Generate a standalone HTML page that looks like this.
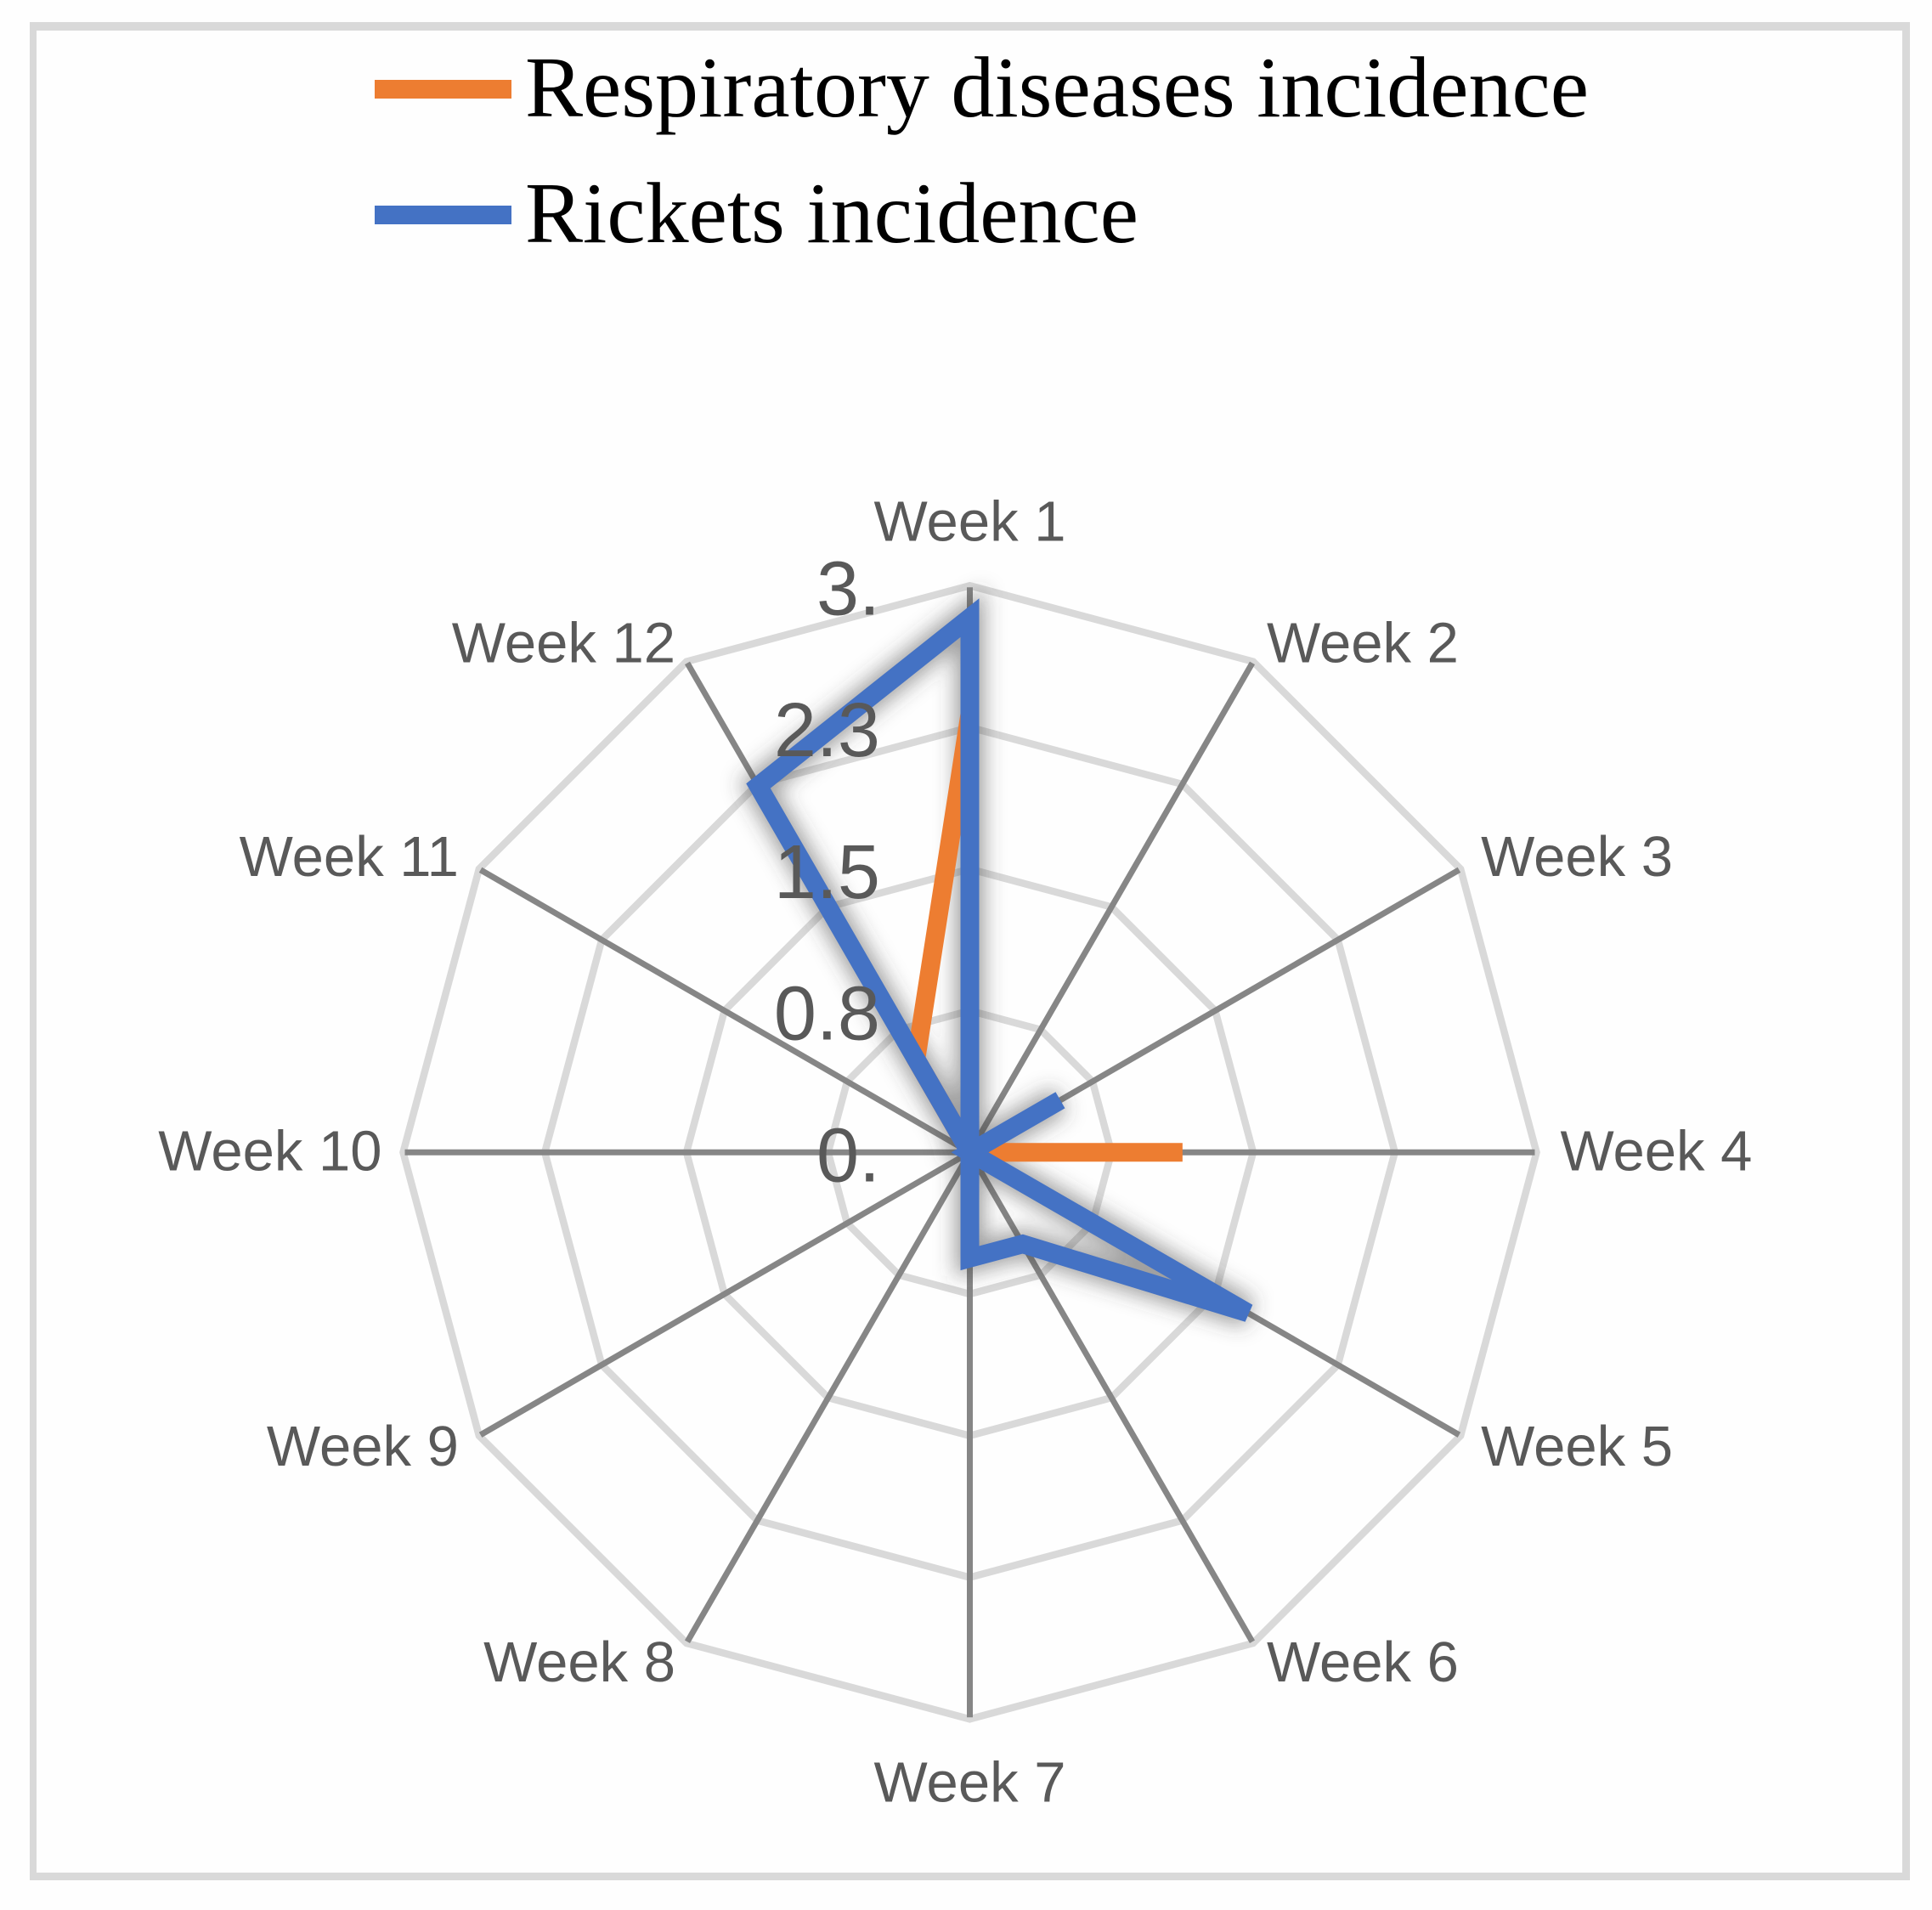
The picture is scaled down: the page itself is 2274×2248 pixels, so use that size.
<!DOCTYPE html>
<html lang="en">
<head>
<meta charset="utf-8">
<title>Respiratory diseases and rickets incidence radar chart</title>
<style>
html,body{margin:0;padding:0;background:#fefefe;}
svg{display:block;}
text{white-space:pre;}
.legend-text{font-family:"Liberation Serif",serif;font-size:102px;fill:#000;}
.cat{font-family:"Liberation Sans",sans-serif;font-size:67px;fill:#595959;}
.tick{font-family:"Liberation Sans",sans-serif;font-size:90px;fill:#595959;text-anchor:end;}
</style>
</head>
<body>
<svg id="chart" xmlns="http://www.w3.org/2000/svg" width="2274" height="2248" viewBox="0 0 2274 2248">
  <defs>
    <filter id="halo" filterUnits="userSpaceOnUse" x="700" y="550" width="1000" height="1200">
      <feGaussianBlur stdDeviation="12"/>
    </filter>
  </defs>
  <rect x="0" y="0" width="2274" height="2248" fill="#fefefe"/>
  <g fill="#d9d9d9">
    <rect x="35" y="26" width="2213" height="10"/>
    <rect x="35" y="2204" width="2213" height="9"/>
    <rect x="35" y="26" width="8" height="2187"/>
    <rect x="2239" y="26" width="9" height="2187"/>
  </g>
  <g>
    <g>
      <rect x="441" y="94" width="161" height="22" fill="#ed7d31"/>
      <text class="legend-text" x="618" y="137" textLength="1252" lengthAdjust="spacingAndGlyphs">Respiratory diseases incidence</text>
    </g>
    <g>
      <rect x="441" y="242" width="161" height="22" fill="#4472c4"/>
      <text class="legend-text" x="618" y="285" textLength="722" lengthAdjust="spacingAndGlyphs">Rickets incidence</text>
    </g>
  </g>
  <g id="rings"></g>
  <g id="spokes"></g>
  <g id="series"></g>
  <g id="cats"></g>
  <g id="ticks"></g>
</svg>
<script>
const categories = ['Week 1','Week 2','Week 3','Week 4','Week 5','Week 6','Week 7','Week 8','Week 9','Week 10','Week 11','Week 12'];
const respiratoryValues = [2.32,0,0,1.126,0,0,0,0,0,0,0,0.57];
const ricketsValues = [2.83,0,0.553,0,1.70,0.56,0.56,0,0,0,0,2.24];
const tickValues = [0,0.75,1.5,2.25,3];
const tickLabels = ['0.','0.8','1.5','2.3','3.'];
const axisMax = 3;

const NS = 'http://www.w3.org/2000/svg';
const cx = 1141.5, cy = 1356.3, R = 667;

function radius(v){ return v / axisMax * R; }
function angle(i){ return i / categories.length * 2 * Math.PI; }
function pointX(i, v){ return cx + radius(v) * Math.sin(angle(i)); }
function pointY(i, v){ return cy - radius(v) * Math.cos(angle(i)); }
function seriesPoints(values){
  return values.map((v, i) => pointX(i, v).toFixed(2) + ',' + pointY(i, v).toFixed(2)).join(' ');
}
function make(tag, attrs){
  const el = document.createElementNS(NS, tag);
  Object.keys(attrs).forEach(k => el.setAttribute(k, attrs[k]));
  return el;
}

const ringsG = document.getElementById('rings');


tickValues.forEach(function(t){
  if (t === 0) return;
  const ring = make('polygon', {
    points: seriesPoints(categories.map(() => t)),
    fill: 'none', stroke: '#d9d9d9', 'stroke-width': 8.5, 'stroke-linejoin': 'miter'
  });
  
  
  ringsG.appendChild(ring);
});

const spokesG = document.getElementById('spokes');


categories.forEach(function(c, i){
  const spoke = make('line', {
    x1: cx, y1: cy, x2: pointX(i, axisMax * 0.997), y2: pointY(i, axisMax * 0.997),
    stroke: '#868686', 'stroke-width': 7
  });
  
  
  spokesG.appendChild(spoke);
});

const seriesG = document.getElementById('series');



const halo = make('polygon', {
  points: seriesPoints(ricketsValues), fill: 'none', stroke: '#444',
  'stroke-width': 34, 'stroke-opacity': 0.5, filter: 'url(#halo)', 'stroke-linejoin': 'miter'
});


seriesG.appendChild(halo);

const orange = make('polygon', {
  points: seriesPoints(respiratoryValues), fill: 'none', stroke: '#ed7d31',
  'stroke-width': 22, 'stroke-linejoin': 'miter'
});


seriesG.appendChild(orange);

const blue = make('polygon', {
  points: seriesPoints(ricketsValues), fill: 'none', stroke: '#4472c4',
  'stroke-width': 22, 'stroke-linejoin': 'miter'
});


seriesG.appendChild(blue);

function labelPlacement(i){
  const baselineOffsets = [-53, 1, 8, 21, 35, 45, 97, 45, 35, 21, 8, 1];
  const gapX = [0, 16, 24, 28, 24, 16, 0, 13, 24, 25, 24, 13];
  const tipX = pointX(i, axisMax), tipY = pointY(i, axisMax);
  const side = Math.sin(angle(i));
  if (Math.abs(side) < 0.01) return {x: tipX, y: tipY + baselineOffsets[i], anchor: 'middle'};
  if (side > 0) return {x: tipX + gapX[i], y: tipY + baselineOffsets[i], anchor: 'start'};
  return {x: tipX - gapX[i], y: tipY + baselineOffsets[i], anchor: 'end'};
}

const catsG = document.getElementById('cats');


categories.forEach(function(c, i){
  const p = labelPlacement(i);
  const label = make('text', {x: p.x, y: p.y, 'text-anchor': p.anchor, class: 'cat'});
  label.textContent = c;
  
  
  catsG.appendChild(label);
});

const ticksG = document.getElementById('ticks');


tickValues.forEach(function(t, i){
  const label = make('text', {x: 1036, y: cy - radius(t) + 34, class: 'tick'});
  label.textContent = tickLabels[i];
  
  
  ticksG.appendChild(label);
});
</script>
</body>
</html>
